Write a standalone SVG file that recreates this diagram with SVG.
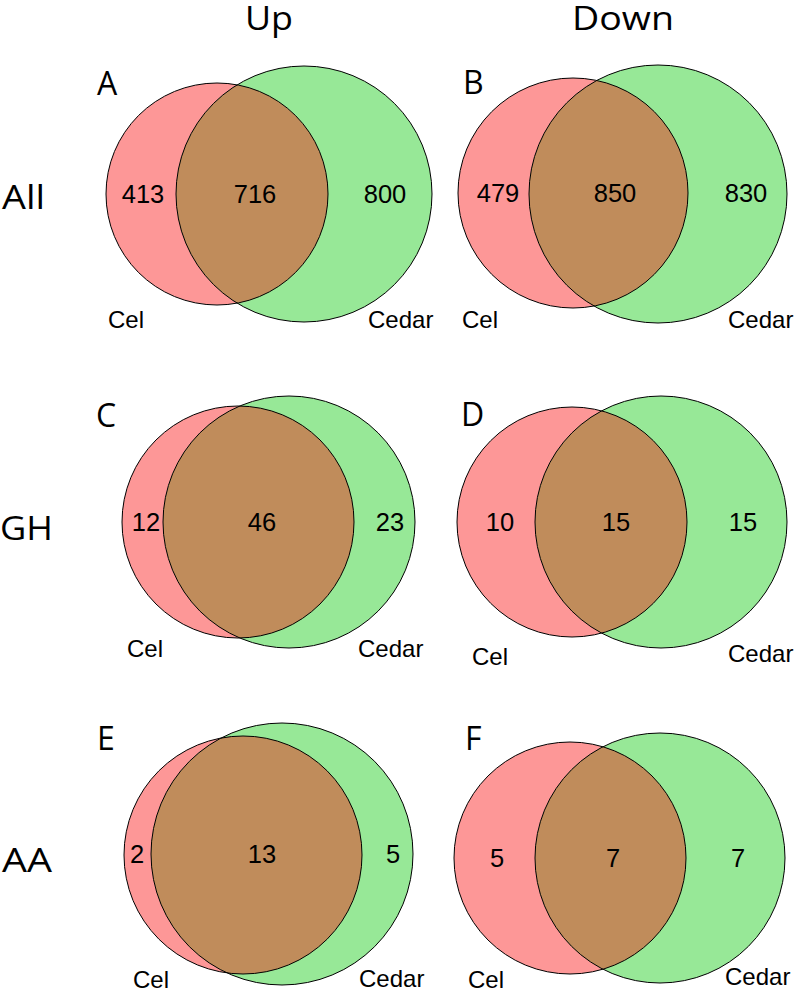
<svg xmlns="http://www.w3.org/2000/svg" width="796" height="993" viewBox="0 0 796 993">
<style>
.red{fill:#fd9797}
.green{fill:#97e897}
.both{fill:#c08c5b}
.edge{fill:none;stroke:#000;stroke-width:1}
.num{font-family:"Liberation Sans",Arial,sans-serif;font-size:25.5px;text-anchor:middle;fill:#000}
.lab{font-family:"Liberation Sans",Arial,sans-serif;font-size:24px;fill:#000}
.head{font-family:"Open Sans","DejaVu Sans",sans-serif;font-size:32px;fill:#000}
</style>
<defs>
<clipPath id="cA"><circle cx="217" cy="194" r="111"/></clipPath>
<clipPath id="cB"><circle cx="573" cy="193" r="115"/></clipPath>
<clipPath id="cC"><circle cx="238" cy="522" r="116"/></clipPath>
<clipPath id="cD"><circle cx="572" cy="522" r="115"/></clipPath>
<clipPath id="cE"><circle cx="243" cy="855" r="119"/></clipPath>
<clipPath id="cF"><circle cx="570" cy="858" r="116"/></clipPath>
</defs>
<rect width="796" height="993" fill="#fff"/>
<g id="headings">
<text class="head" x="245" y="30" textLength="48" lengthAdjust="spacingAndGlyphs">Up</text>
<text class="head" x="572" y="30" textLength="102" lengthAdjust="spacingAndGlyphs">Down</text>
<text class="head" x="2" y="209" textLength="43" lengthAdjust="spacingAndGlyphs">All</text>
<text class="head" x="0" y="540" textLength="53" lengthAdjust="spacingAndGlyphs">GH</text>
<text class="head" x="2" y="872" textLength="50" lengthAdjust="spacingAndGlyphs">AA</text>
</g>
<g id="panelA">
<circle class="red" cx="217" cy="194" r="111"/>
<circle class="green" cx="304" cy="194" r="128"/>
<circle class="both" cx="304" cy="194" r="128" clip-path="url(#cA)"/>
<circle class="edge" cx="217" cy="194" r="111"/>
<circle class="edge" cx="304" cy="194" r="128"/>
<text class="head" x="97" y="95">A</text>
<text class="num" x="143" y="203">413</text>
<text class="num" x="255" y="203">716</text>
<text class="num" x="385" y="203">800</text>
<text class="lab" x="108" y="328">Cel</text>
<text class="lab" x="368" y="328">Cedar</text>
</g>
<g id="panelB">
<circle class="red" cx="573" cy="193" r="115"/>
<circle class="green" cx="658" cy="194" r="129"/>
<circle class="both" cx="658" cy="194" r="129" clip-path="url(#cB)"/>
<circle class="edge" cx="573" cy="193" r="115"/>
<circle class="edge" cx="658" cy="194" r="129"/>
<text class="head" x="463" y="94">B</text>
<text class="num" x="498" y="202">479</text>
<text class="num" x="615" y="202">850</text>
<text class="num" x="746" y="202">830</text>
<text class="lab" x="462" y="328">Cel</text>
<text class="lab" x="728" y="328">Cedar</text>
</g>
<g id="panelC">
<circle class="red" cx="238" cy="522" r="116"/>
<circle class="green" cx="289" cy="522" r="126"/>
<circle class="both" cx="289" cy="522" r="126" clip-path="url(#cC)"/>
<circle class="edge" cx="238" cy="522" r="116"/>
<circle class="edge" cx="289" cy="522" r="126"/>
<text class="head" x="96" y="427">C</text>
<text class="num" x="146" y="531">12</text>
<text class="num" x="262" y="531">46</text>
<text class="num" x="390" y="531">23</text>
<text class="lab" x="127" y="657">Cel</text>
<text class="lab" x="358" y="657">Cedar</text>
</g>
<g id="panelD">
<circle class="red" cx="572" cy="522" r="115"/>
<circle class="green" cx="661" cy="522" r="126"/>
<circle class="both" cx="661" cy="522" r="126" clip-path="url(#cD)"/>
<circle class="edge" cx="572" cy="522" r="115"/>
<circle class="edge" cx="661" cy="522" r="126"/>
<text class="head" x="461" y="426">D</text>
<text class="num" x="500" y="531">10</text>
<text class="num" x="616" y="531">15</text>
<text class="num" x="743" y="531">15</text>
<text class="lab" x="472" y="665">Cel</text>
<text class="lab" x="728" y="662">Cedar</text>
</g>
<g id="panelE">
<circle class="red" cx="243" cy="855" r="119"/>
<circle class="green" cx="282" cy="854" r="131"/>
<circle class="both" cx="282" cy="854" r="131" clip-path="url(#cE)"/>
<circle class="edge" cx="243" cy="855" r="119"/>
<circle class="edge" cx="282" cy="854" r="131"/>
<text class="head" x="97" y="750">E</text>
<text class="num" x="137" y="863">2</text>
<text class="num" x="262" y="863">13</text>
<text class="num" x="393" y="863">5</text>
<text class="lab" x="133" y="988">Cel</text>
<text class="lab" x="359" y="987">Cedar</text>
</g>
<g id="panelF">
<circle class="red" cx="570" cy="858" r="116"/>
<circle class="green" cx="660" cy="858" r="125"/>
<circle class="both" cx="660" cy="858" r="125" clip-path="url(#cF)"/>
<circle class="edge" cx="570" cy="858" r="116"/>
<circle class="edge" cx="660" cy="858" r="125"/>
<text class="head" x="465" y="750">F</text>
<text class="num" x="497" y="867">5</text>
<text class="num" x="613" y="867">7</text>
<text class="num" x="738" y="867">7</text>
<text class="lab" x="468" y="988">Cel</text>
<text class="lab" x="725" y="985">Cedar</text>
</g>
<g id="connectors"/>
</svg>
